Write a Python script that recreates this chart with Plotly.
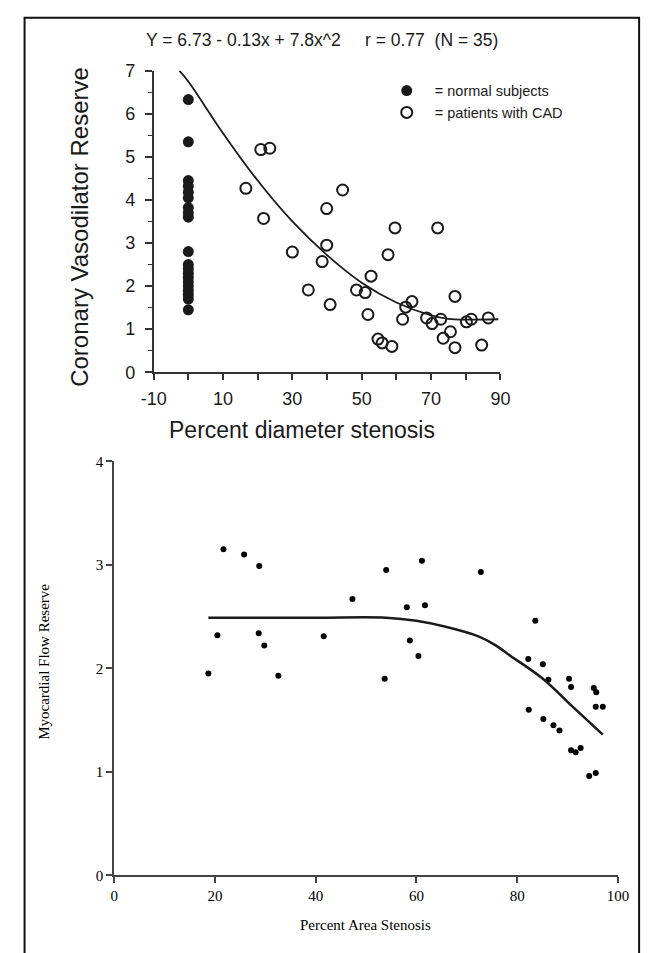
import plotly.graph_objects as go

W, H = 653, 953

# ---------------- top panel data ----------------
normal_x = [0, 0, 0, 0, 0, 0, 0, 0, 0, 0, 0, 0, 0, 0, 0, 0, 0, 0, 0, 0]
normal_y = [6.33, 5.35, 4.45, 4.32, 4.18, 4.05, 3.82, 3.7, 3.6, 2.8, 2.5, 2.4,
            2.3, 2.2, 2.1, 2.0, 1.9, 1.8, 1.7, 1.45]

cad_x = [16.6, 20.9, 21.7, 23.5, 30.0, 34.6, 38.6, 39.9, 39.9, 40.9, 44.5, 48.5,
         51.0, 51.8, 52.7, 54.7, 55.9, 57.6, 58.7, 59.6, 61.8, 62.7, 64.5, 68.7,
         70.3, 71.9, 72.8, 73.5, 75.6, 76.9, 76.9, 80.2, 81.6, 84.6, 86.5]
cad_y = [4.27, 5.17, 3.57, 5.20, 2.79, 1.91, 2.57, 3.80, 2.95, 1.57, 4.23, 1.91,
         1.85, 1.34, 2.23, 0.77, 0.68, 2.73, 0.60, 3.35, 1.23, 1.51, 1.64, 1.26,
         1.13, 3.35, 1.23, 0.79, 0.94, 1.76, 0.57, 1.17, 1.23, 0.63, 1.26]

fit_top_x = [-2.6, 0, 10, 20, 30, 40, 50, 60, 70, 75, 80, 89.4]
fit_top_y = [7.0, 6.75, 5.55, 4.45, 3.5, 2.72, 2.08, 1.62, 1.32, 1.24, 1.22, 1.23]

top_xticks = [-10, 0, 10, 20, 30, 40, 50, 60, 70, 80, 90]
top_xticktext = ["-10", "", "10", "", "30", "", "50", "", "70", "", "90"]
top_yticks = [0, 1, 2, 3, 4, 5, 6, 7]

# ---------------- bottom panel data ----------------
area_x = [18.7, 20.5, 21.7, 25.8, 28.7, 28.8, 29.8, 32.6, 41.6, 47.3, 53.7, 54.0,
          58.1, 58.7, 60.4, 61.1, 61.7, 72.8, 82.2, 82.3, 83.6, 85.1, 85.2, 86.2,
          87.2, 88.4, 90.3, 90.7, 90.7, 91.6, 92.6, 94.3, 95.2, 95.6, 95.6, 95.7, 97.0]
area_y = [1.95, 2.32, 3.15, 3.10, 2.34, 2.99, 2.22, 1.93, 2.31, 2.67, 1.90, 2.95,
          2.59, 2.27, 2.12, 3.04, 2.61, 2.93, 2.09, 1.60, 2.46, 2.04, 1.51, 1.89,
          1.45, 1.40, 1.90, 1.82, 1.21, 1.19, 1.23, 0.96, 1.81, 0.99, 1.63, 1.77, 1.63]

fit_bot_x = [18.7, 40, 54, 60, 66, 72.3, 75.5, 78.7, 85.1, 91, 97.0]
fit_bot_y = [2.49, 2.49, 2.49, 2.46, 2.40, 2.31, 2.23, 2.12, 1.90, 1.63, 1.36]

bot_xticks = [0, 20, 40, 60, 80, 100]
bot_yticks = [0, 1, 2, 3, 4]

SANS = "Liberation Sans, Arial, Helvetica, sans-serif"
SERIF = "Liberation Serif, Times New Roman, serif"
INK = "#1a1a1a"
NB = "\u00a0"

fig = go.Figure()

fig.add_trace(go.Scatter(
    x=normal_x, y=normal_y, mode="markers", name=NB * 2 + "= normal subjects",
    marker=dict(size=11, color=INK, line=dict(width=0)),
    xaxis="x", yaxis="y", cliponaxis=False, showlegend=True))
fig.add_trace(go.Scatter(
    x=cad_x, y=cad_y, mode="markers", name=NB * 2 + "= patients with CAD",
    marker=dict(size=11, symbol="circle-open", color=INK, line=dict(width=2, color=INK)),
    xaxis="x", yaxis="y", cliponaxis=False, showlegend=True))
fig.add_trace(go.Scatter(
    x=fit_top_x, y=fit_top_y, mode="lines", line=dict(color=INK, width=1.8, shape="spline"),
    xaxis="x", yaxis="y", cliponaxis=False, showlegend=False))

fig.add_trace(go.Scatter(
    x=area_x, y=area_y, mode="markers",
    marker=dict(size=6, color="#000"),
    xaxis="x2", yaxis="y2", cliponaxis=False, showlegend=False))
fig.add_trace(go.Scatter(
    x=fit_bot_x, y=fit_bot_y, mode="lines", line=dict(color=INK, width=2.5, shape="spline"),
    xaxis="x2", yaxis="y2", cliponaxis=False, showlegend=False))

top_xdom = [146 / W, 506 / W]
top_ydom = [1 - 370 / H, 1 - 62 / H]
bot_xdom = [105 / W, 628 / W]
bot_ydom = [1 - 884 / H, 1 - 461 / H]

fig.update_layout(
    width=W, height=H,
    margin=dict(l=0, r=0, t=0, b=0),
    paper_bgcolor="white", plot_bgcolor="white",
    showlegend=True,
    legend=dict(x=388 / W, y=1 - 66 / H, xanchor="left", yanchor="top",
                font=dict(family=SANS, size=14.5, color=INK),
                bgcolor="rgba(0,0,0,0)", tracegroupgap=0, itemsizing="trace"),
    xaxis=dict(domain=top_xdom, range=[-10, 90], anchor="y",
               showgrid=False, zeroline=False, showline=True, linecolor="#333", linewidth=1.5,
               ticks="outside", ticklen=6, tickwidth=1.5, tickcolor="#333",
               tickvals=top_xticks, ticktext=top_xticktext,
               tickfont=dict(family=SANS, size=18, color=INK), ticklabelstandoff=3),
    yaxis=dict(domain=top_ydom, range=[0, 7], anchor="x",
               showgrid=False, zeroline=False, showline=True, linecolor="#333", linewidth=1.5,
               ticks="outside", ticklen=7, tickwidth=1.5, tickcolor="#333",
               tickvals=top_yticks,
               minor=dict(dtick=0.5, ticks="outside", ticklen=4, tickwidth=1.2, tickcolor="#333"),
               tickfont=dict(family=SANS, size=18, color=INK), ticklabelstandoff=6),
    xaxis2=dict(domain=bot_xdom, range=[0, 100], anchor="y2",
                showgrid=False, zeroline=False, showline=True, linecolor="#444", linewidth=2,
                ticks="outside", ticklen=6, tickwidth=1.5, tickcolor="#444",
                tickvals=bot_xticks,
                tickfont=dict(family=SERIF, size=15, color="#000")),
    yaxis2=dict(domain=bot_ydom, range=[0, 4], anchor="x2",
                showgrid=False, zeroline=False, showline=True, linecolor="#444", linewidth=2,
                ticks="outside", ticklen=6, tickwidth=1.5, tickcolor="#444",
                tickvals=bot_yticks,
                tickfont=dict(family=SERIF, size=15, color="#000")),
    shapes=[dict(type="rect", xref="paper", yref="paper",
                 x0=12 / W, x1=650 / W, y0=-0.05, y1=1 - 8 / H,
                 line=dict(color="#111", width=2), fillcolor="rgba(0,0,0,0)")],
    annotations=[
        dict(text="Y = 6.73 - 0.13x + 7.8x^2     r = 0.77  (N = 35)",
             xref="paper", yref="paper", x=321 / W, y=1 - 31 / H,
             xanchor="center", yanchor="middle", showarrow=False,
             font=dict(family=SANS, size=17.5, color=INK)),
        dict(text="Coronary Vasodilator Reserve", textangle=-90,
             xref="paper", yref="paper", x=69 / W, y=1 - 221 / H,
             xanchor="center", yanchor="middle", showarrow=False,
             font=dict(family=SANS, size=24, color=INK)),
        dict(text="Percent diameter stenosis",
             xref="paper", yref="paper", x=300 / W, y=1 - 429 / H,
             xanchor="center", yanchor="middle", showarrow=False,
             font=dict(family=SANS, size=23, color=INK)),
        dict(text="Myocardial Flow Reserve", textangle=-90,
             xref="paper", yref="paper", x=32 / W, y=1 - 666 / H,
             xanchor="center", yanchor="middle", showarrow=False,
             font=dict(family=SERIF, size=15, color="#000")),
        dict(text="Percent Area Stenosis",
             xref="paper", yref="paper", x=366 / W, y=1 - 935 / H,
             xanchor="center", yanchor="middle", showarrow=False,
             font=dict(family=SERIF, size=15, color="#000")),
    ],
)

fig.write_html("out.html")
